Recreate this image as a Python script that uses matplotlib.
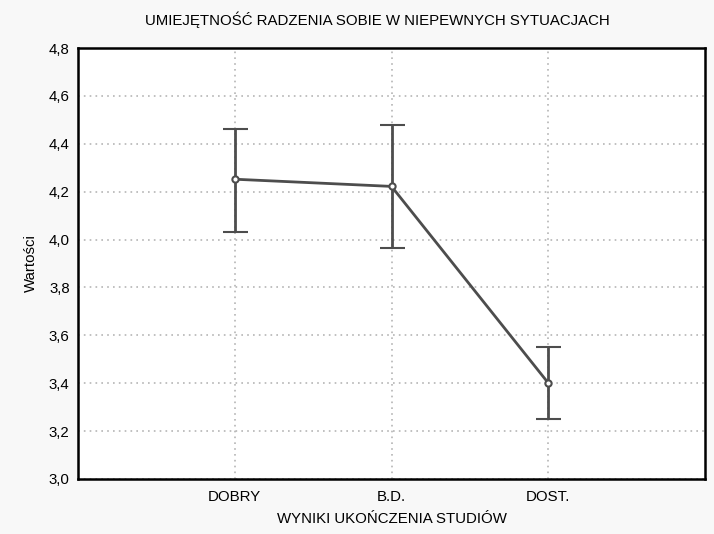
import matplotlib.pyplot as plt
import numpy as np

plt.rcParams['font.family'] = ['Liberation Sans', 'DejaVu Sans']

# data
groups = ['DOBRY', 'B.D.', 'DOST.']
means = [4.252, 4.222, 3.401]
upper = [4.462, 4.480, 3.550]
lower = [4.033, 3.965, 3.249]
yticks = [3.0, 3.2, 3.4, 3.6, 3.8, 4.0, 4.2, 4.4, 4.6, 4.8]

x = np.arange(len(groups))
means = np.array(means)
err = [means - np.array(lower), np.array(upper) - means]

fig = plt.figure(figsize=(7.14, 5.34), dpi=100, facecolor='#f8f8f8')
ax = fig.add_axes([78 / 714, 55 / 534, 627 / 714, 431 / 534])
ax.set_facecolor('white')

ax.errorbar(x, means, yerr=err, color='#4d4d4d', lw=2, capsize=9, capthick=2,
            marker='o', ms=4.5, mfc='white', mec='#4d4d4d', mew=1.5, zorder=3)

fs = 10.8
ax.set_xlim(-1, 3)
ax.set_ylim(3.0, 4.8)
ax.set_xticks(x)
ax.set_xticklabels(groups, fontsize=fs)
ax.set_yticks(yticks)
ax.set_yticklabels([f'{v:.1f}'.replace('.', ',') for v in yticks], fontsize=fs)
ax.tick_params(axis='x', length=0, pad=8)
ax.tick_params(axis='y', length=0, pad=6)
ax.grid(True, ls=(0, (1, 2.5)), color='#b5b5b5', lw=1.2)
for s in ax.spines.values():
    s.set_linewidth(1.8)
    s.set_color('black')

fig.text(377 / 714, 1 - 20 / 534, 'UMIEJĘTNOŚĆ RADZENIA SOBIE W NIEPEWNYCH SYTUACJACH',
         fontsize=fs, ha='center', va='center')
ax.set_xlabel('WYNIKI UKOŃCZENIA STUDIÓW', fontsize=fs, labelpad=6)
ax.set_ylabel('Wartości', fontsize=fs, labelpad=8)

fig.savefig('out.png', dpi=100, facecolor=fig.get_facecolor())
